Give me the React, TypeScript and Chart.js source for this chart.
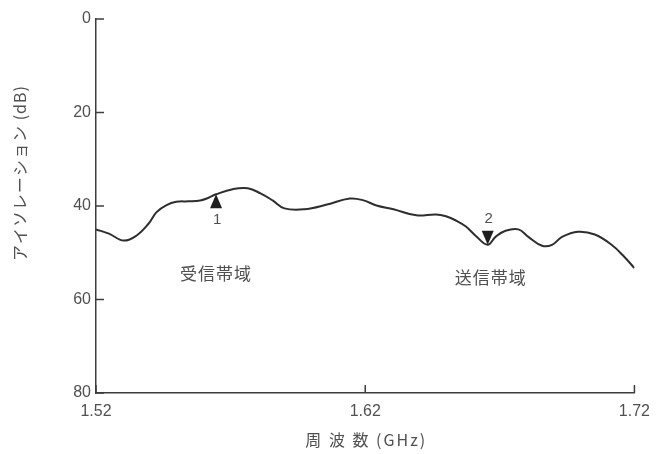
import React, { useEffect, useRef } from 'react';
import { Chart, registerables } from 'chart.js';

Chart.register(...registerables);

// Frequency (GHz) and isolation (dB)
const freqGHz = [
  1.52, 1.5248, 1.5303, 1.5351, 1.5395, 1.5425, 1.5462, 1.5498, 1.5543, 1.5587,
  1.5616, 1.5646, 1.5708, 1.5764, 1.5811, 1.5856, 1.59, 1.5973, 1.6058, 1.6143,
  1.6194, 1.6242, 1.6305, 1.639, 1.6463, 1.65, 1.6537, 1.6574, 1.6611, 1.6655,
  1.6684, 1.6721, 1.6769, 1.6806, 1.6857, 1.6894, 1.6931, 1.699, 1.7053, 1.7115,
  1.7163, 1.72,
];
const isolationDb = [
  45.0, 45.9, 47.4, 46.3, 43.8, 41.3, 39.8, 39.1, 39.0, 38.8,
  38.3, 37.5, 36.4, 36.2, 37.3, 38.8, 40.5, 40.7, 39.7, 38.4,
  38.8, 39.9, 40.7, 42.0, 41.8, 42.2, 43.1, 44.4, 46.4, 48.3,
  46.6, 45.3, 45.0, 46.6, 48.5, 48.3, 46.6, 45.5, 46.1, 48.3,
  50.9, 53.3,
];

const xTickValues = [1.52, 1.62, 1.72];
const yTickValues = [0, 20, 40, 60, 80];

const markerFreq = [1.5646, 1.6655];
const markerIso = [37.5, 48.3];
const markerLabels = ['1', '2'];
const markerPointsUp = [true, false];

const bandLabels = ['受信帯域', '送信帯域'];
const bandFreq = [1.5646, 1.6666];
const bandIso = [54.5, 55.2];

const xTitle = '周 波 数 (GHz)';
const yTitle = 'アイソレーション (dB)';

const TEXT = '#505050';
const AXIS = '#3c3c3c';
const JP_FONT = '"Noto Sans CJK JP", "Noto Sans", sans-serif';

const overlay = {
  id: 'overlay',
  afterDraw(chart: any) {
    const { ctx, chartArea } = chart;
    const x = chart.scales.x;
    const y = chart.scales.y;
    ctx.save();
    // inward tick marks
    ctx.strokeStyle = AXIS;
    ctx.lineWidth = 1.5;
    y.ticks.forEach((t: any) => {
      const py = y.getPixelForValue(t.value);
      ctx.beginPath();
      ctx.moveTo(chartArea.left, py);
      ctx.lineTo(chartArea.left + 8, py);
      ctx.stroke();
    });
    x.ticks.forEach((t: any) => {
      const px = x.getPixelForValue(t.value);
      ctx.beginPath();
      ctx.moveTo(px, chartArea.bottom);
      ctx.lineTo(px, chartArea.bottom - 8);
      ctx.stroke();
    });

    // markers
    markerFreq.forEach((f, i) => {
      const px = x.getPixelForValue(f);
      const py = y.getPixelForValue(markerIso[i]);
      const dir = markerPointsUp[i] ? 1 : -1;
      const h = 14;
      const w = 6;
      ctx.fillStyle = '#1e1e1e';
      ctx.beginPath();
      ctx.moveTo(px, py);
      ctx.lineTo(px - w, py + dir * h);
      ctx.lineTo(px + w, py + dir * h);
      ctx.closePath();
      ctx.fill();
      ctx.font = '15px "Liberation Sans", sans-serif';
      ctx.fillStyle = TEXT;
      ctx.textAlign = 'center';
      ctx.textBaseline = 'middle';
      ctx.fillText(markerLabels[i], px + 1, py + dir * (h + 12));
    });

    // band labels
    ctx.font = '17px ' + JP_FONT;
    ctx.fillStyle = TEXT;
    ctx.textAlign = 'center';
    ctx.textBaseline = 'middle';
    (ctx as any).letterSpacing = '1px';
    bandLabels.forEach((s, i) => {
      ctx.fillText(s, x.getPixelForValue(bandFreq[i]), y.getPixelForValue(bandIso[i]));
    });

    // x axis title
    ctx.font = '16px ' + JP_FONT;
    (ctx as any).letterSpacing = '2px';
    ctx.fillText(xTitle, (chartArea.left + chartArea.right) / 2 + 1, 440);

    // y axis title
    (ctx as any).letterSpacing = '1px';
    ctx.translate(20, 173);
    ctx.rotate(-Math.PI / 2);
    ctx.fillText(yTitle, 0, 0);
    ctx.restore();
  },
};

export default function App() {
  const ref = useRef<HTMLCanvasElement>(null);
  useEffect(() => {
    if (!ref.current) return;
    const chart = new Chart(ref.current, {
      type: 'line',
      data: {
        datasets: [
          {
            data: freqGHz.map((f, i) => ({ x: f, y: isolationDb[i] })),
            borderColor: '#2e2e2e',
            borderWidth: 2,
            pointRadius: 0,
            tension: 0.4,
            fill: false,
          },
        ],
      },
      options: {
        animation: false,
        responsive: false,
        devicePixelRatio: 1,
        layout: { padding: { top: 19, right: 19, left: 0, bottom: 0 } },
        plugins: {
          legend: { display: false },
          tooltip: { enabled: false },
        },
        scales: {
          x: {
            type: 'linear',
            min: 1.52,
            max: 1.72,
            afterBuildTicks: (s: any) => {
              s.ticks = xTickValues.map((v) => ({ value: v }));
            },
            afterFit: (s: any) => {
              s.height = 61;
            },
            grid: { display: false, drawTicks: false },
            border: { display: true, color: AXIS, width: 1.5 },
            ticks: {
              padding: 9,
              maxRotation: 0,
              color: TEXT,
              font: { family: '"Liberation Sans", sans-serif', size: 16 },
              callback: (v: any) => Number(v).toFixed(2),
            },
          },
          y: {
            type: 'linear',
            reverse: true,
            min: 0,
            max: 80,
            afterBuildTicks: (s: any) => {
              s.ticks = yTickValues.map((v) => ({ value: v }));
            },
            afterFit: (s: any) => {
              s.width = 96;
            },
            grid: { display: false, drawTicks: false },
            border: { display: true, color: AXIS, width: 1.5 },
            ticks: {
              padding: 5,
              color: TEXT,
              font: { family: '"Liberation Sans", sans-serif', size: 16 },
            },
          },
        },
      },
      plugins: [overlay],
    });
    return () => chart.destroy();
  }, []);
  return (
    <canvas
      ref={ref}
      width={659}
      height={454}
      style={{ position: 'absolute', left: 0, top: 0, width: 659, height: 454 }}
    />
  );
}
